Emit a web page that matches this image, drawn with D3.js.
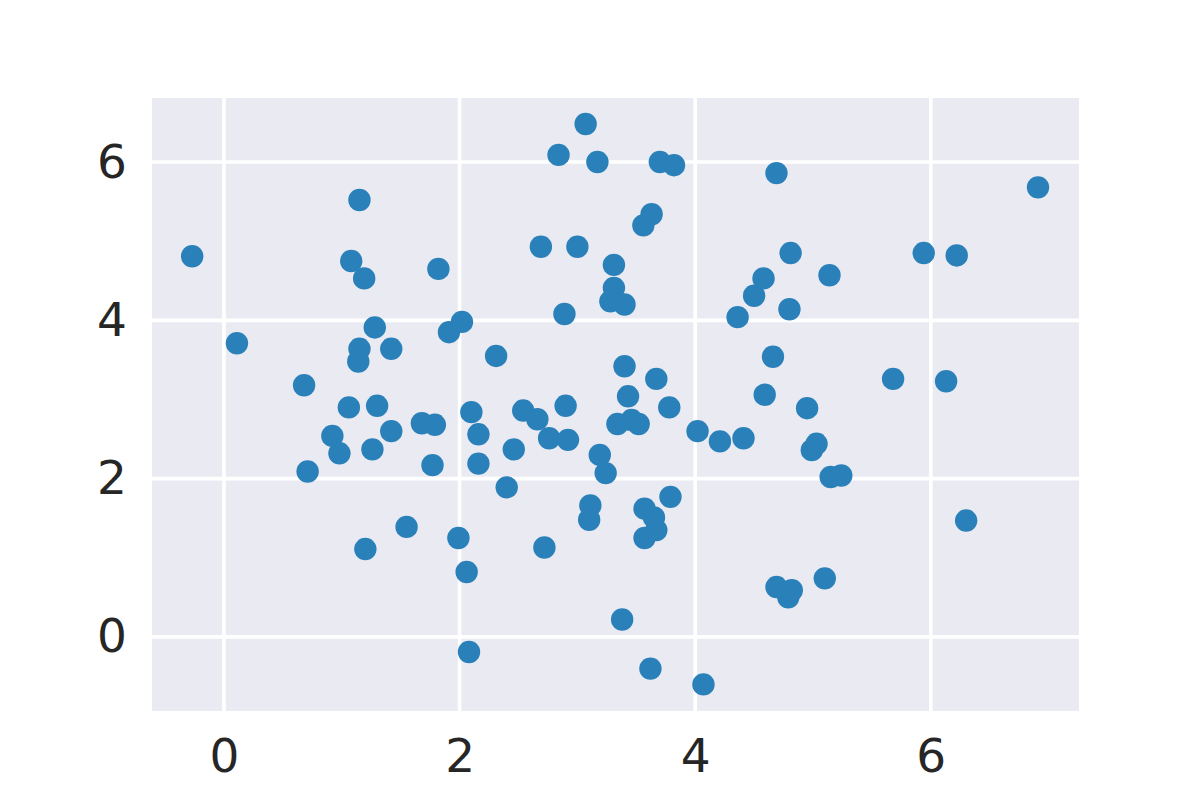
<!DOCTYPE html>
<html>
<head>
<meta charset="utf-8">
<script src="https://cdn.jsdelivr.net/npm/d3@7"></script>
<style>
  html, body { margin: 0; padding: 0; background: #ffffff; }
  svg { display: block; }
</style>
</head>
<body>
<svg id="chart" width="1200" height="800"></svg>
<script>
const xValues = [
  -0.27, 0.11, 0.68, 0.71, 0.92, 0.98, 1.06, 1.08, 1.15, 1.19,
  1.15, 1.14, 1.28, 1.30, 1.26, 1.42, 1.42, 1.20, 1.55, 1.68,
  1.79, 1.77, 1.82, 1.91, 2.02, 1.99, 2.06, 2.08, 2.10, 2.16,
  2.16, 2.31, 2.40, 2.46, 2.54, 2.66, 2.69, 2.72, 2.76, 2.84,
  2.89, 2.90, 2.92, 3.00, 3.07, 3.17, 3.11, 3.10, 3.19, 3.24,
  3.28, 3.31, 3.31, 3.40, 3.34, 3.40, 3.43, 3.46, 3.52, 3.38,
  3.56, 3.63, 3.57, 3.57, 3.65, 3.67, 3.67, 3.62, 3.70, 3.82,
  3.78, 3.79, 4.02, 4.07, 4.21, 4.36, 4.41, 4.50, 4.58, 4.59,
  4.66, 4.69, 4.69, 4.79, 4.82, 4.80, 4.81, 4.95, 4.99, 5.03,
  5.10, 5.14, 5.15, 5.24, 5.68, 5.94, 6.13, 6.22, 6.30, 6.91
];
const yValues = [
  4.81, 3.71, 3.18, 2.09, 2.54, 2.32, 2.90, 4.75, 5.52, 4.53,
  3.64, 3.48, 3.91, 2.92, 2.37, 3.64, 2.60, 1.11, 1.39, 2.70,
  2.68, 2.17, 4.65, 3.85, 3.98, 1.25, 0.82, -0.19, 2.84, 2.56,
  2.19, 3.55, 1.89, 2.37, 2.86, 2.75, 4.93, 1.13, 2.51, 6.09,
  4.08, 2.92, 2.49, 4.93, 6.48, 6.00, 1.66, 1.48, 2.30, 2.07,
  4.24, 4.70, 4.41, 4.20, 2.69, 3.42, 3.04, 2.74, 2.69, 0.22,
  5.20, 5.34, 1.62, 1.25, 1.51, 1.35, 3.26, -0.40, 6.00, 5.96,
  2.90, 1.77, 2.60, -0.60, 2.47, 4.04, 2.51, 4.31, 4.53, 3.06,
  3.54, 5.86, 0.63, 0.50, 0.59, 4.14, 4.85, 2.89, 2.36, 2.44,
  0.74, 4.57, 2.02, 2.04, 3.26, 4.85, 3.23, 4.82, 1.47, 5.68
];
const xTicks = [0, 2, 4, 6];
const yTicks = [0, 2, 4, 6];

const points = xValues.map((x, i) => ({ x: x, y: yValues[i] }));

const svg = d3.select("#chart");
const plot = { left: 152, right: 1079, top: 98, bottom: 711 };

const x = d3.scaleLinear().domain([-0.611, 7.258]).range([plot.left, plot.right]);
const y = d3.scaleLinear().domain([-0.936, 6.809]).range([plot.bottom, plot.top]);

svg.append("rect")
  .attr("x", plot.left).attr("y", plot.top)
  .attr("width", plot.right - plot.left)
  .attr("height", plot.bottom - plot.top)
  .attr("fill", "#EAEAF2");

const grid = svg.append("g");
grid.selectAll("line.gx").data(xTicks).join("line")
  .attr("class", "gx")
  .attr("x1", d => x(d)).attr("x2", d => x(d))
  .attr("y1", plot.top).attr("y2", plot.bottom)
  .attr("stroke", "#ffffff").attr("stroke-width", 3.6);
grid.selectAll("line.gy").data(yTicks).join("line")
  .attr("class", "gy")
  .attr("y1", d => y(d)).attr("y2", d => y(d))
  .attr("x1", plot.left).attr("x2", plot.right)
  .attr("stroke", "#ffffff").attr("stroke-width", 3.6);

const xAxis = d3.axisBottom(x).tickValues(xTicks).tickSize(0).tickPadding(28).tickFormat(d3.format("d"));
const yAxis = d3.axisLeft(y).tickValues(yTicks).tickSize(0).tickPadding(25).tickFormat(d3.format("d"));

const gx = svg.append("g").attr("transform", `translate(0,${plot.bottom})`).call(xAxis);
const gy = svg.append("g").attr("transform", `translate(${plot.left},0)`).call(yAxis);
[gx, gy].forEach(g => {
  g.select(".domain").remove();
  g.selectAll("text")
    .attr("fill", "#262626")
    .style("font-family", "'DejaVu Sans', sans-serif")
    .style("font-size", "47px");
});

svg.append("g").selectAll("circle").data(points).join("circle")
  .attr("cx", d => x(d.x))
  .attr("cy", d => y(d.y))
  .attr("r", 11.2)
  .attr("fill", "#2a80b9");
</script>
</body>
</html>
